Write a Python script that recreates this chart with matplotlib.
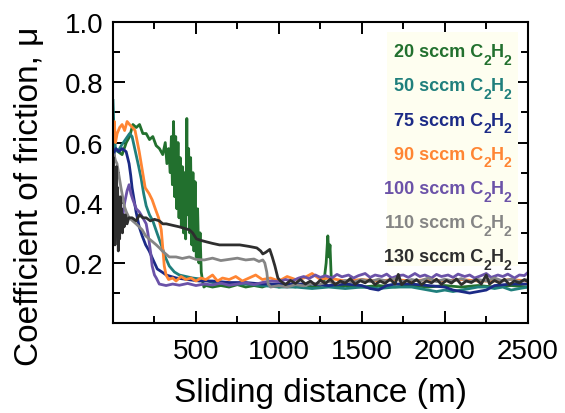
import matplotlib
matplotlib.use("Agg")
import matplotlib.pyplot as plt
from matplotlib.patches import Rectangle
from matplotlib.ticker import MultipleLocator
from matplotlib.transforms import offset_copy

plt.rcParams["font.family"] = ["Liberation Sans", "DejaVu Sans"]

# ---- data (sliding distance in m, COF) ----
x20 = [0, 10, 30, 55, 80, 100, 120, 140, 160, 180, 200, 220, 240, 260, 280, 300,
       315, 325, 335, 345, 352, 358, 365, 372, 378, 385, 392, 398, 405, 412, 418,
       425, 432, 438, 445, 450, 456, 462, 468, 475, 482, 488, 495, 502, 510, 518,
       525, 532, 540, 548, 560, 600, 650, 700, 750, 800, 850, 900, 950, 1000, 1050,
       1100, 1150, 1200, 1250, 1270, 1285, 1295, 1302, 1308, 1315, 1325, 1350, 1400,
       1500, 1600, 1700, 1800, 1900, 2000, 2100, 2200, 2300, 2400, 2500]
y20 = [0.55, 0.58, 0.57, 0.56, 0.60, 0.62, 0.66, 0.65, 0.66, 0.63, 0.63, 0.61, 0.62,
       0.59, 0.58, 0.56, 0.60, 0.53, 0.58, 0.50, 0.62, 0.46, 0.67, 0.42, 0.62, 0.38,
       0.60, 0.35, 0.55, 0.32, 0.52, 0.30, 0.50, 0.28, 0.68, 0.36, 0.58, 0.30, 0.55,
       0.26, 0.50, 0.24, 0.47, 0.22, 0.38, 0.20, 0.30, 0.17, 0.14, 0.12, 0.125, 0.12,
       0.125, 0.12, 0.128, 0.12, 0.125, 0.12, 0.13, 0.12, 0.125, 0.12, 0.13, 0.12,
       0.125, 0.13, 0.20, 0.29, 0.22, 0.26, 0.16, 0.13, 0.12, 0.125, 0.12, 0.125,
       0.12, 0.125, 0.12, 0.125, 0.12, 0.125, 0.12, 0.125, 0.12]

x50 = [0, 6, 15, 30, 50, 75, 100, 115, 139, 155, 170, 185, 200, 220, 240, 265, 291,
       315, 339, 370, 400, 440, 480, 550, 600, 700, 800, 900, 1000, 1100, 1200, 1300,
       1400, 1500, 1600, 1700, 1800, 1850, 1900, 1950, 2000, 2050, 2100, 2150, 2200,
       2250, 2300, 2350, 2400, 2450, 2500]
y50 = [0.74, 0.64, 0.58, 0.57, 0.59, 0.61, 0.63, 0.62, 0.56, 0.52, 0.48, 0.43, 0.39,
       0.36, 0.34, 0.30, 0.26, 0.22, 0.19, 0.17, 0.16, 0.155, 0.15, 0.145, 0.135, 0.13,
       0.13, 0.125, 0.12, 0.12, 0.115, 0.12, 0.115, 0.12, 0.115, 0.12, 0.12, 0.115,
       0.11, 0.105, 0.11, 0.105, 0.11, 0.115, 0.12, 0.12, 0.115, 0.12, 0.11, 0.115,
       0.12]

x75 = [0, 8, 18, 36, 55, 79, 97, 107, 115, 127, 139, 158, 176, 197, 218, 242, 267,
       295, 321, 350, 382, 450, 520, 600, 700, 800, 900, 1000, 1100, 1200, 1300, 1400,
       1500, 1550, 1600, 1650, 1700, 1800, 1900, 2000, 2050, 2100, 2150, 2200, 2250,
       2300, 2400, 2500]
y75 = [0.52, 0.57, 0.58, 0.57, 0.58, 0.57, 0.53, 0.49, 0.45, 0.41, 0.37, 0.32, 0.29,
       0.26, 0.24, 0.21, 0.18, 0.17, 0.16, 0.155, 0.15, 0.145, 0.14, 0.14, 0.135,
       0.135, 0.13, 0.13, 0.13, 0.13, 0.125, 0.13, 0.125, 0.115, 0.11, 0.125, 0.13,
       0.13, 0.125, 0.12, 0.11, 0.105, 0.10, 0.105, 0.11, 0.125, 0.13, 0.13]

x90 = [0, 8, 15, 25, 40, 55, 70, 85, 100, 118, 133, 158, 176, 194, 218, 236, 255, 275,
       291, 300, 309, 320, 335, 360, 380, 410, 440, 470, 500, 530, 560, 600, 630, 660,
       700, 740, 780, 820, 860, 900, 950, 1000, 1050, 1100, 1150, 1200, 1250, 1300,
       1400, 1500, 1600, 1700, 1800, 1900, 2000, 2100, 2200, 2300, 2400, 2500]
y90 = [0.62, 0.67, 0.60, 0.63, 0.65, 0.66, 0.64, 0.67, 0.66, 0.65, 0.64, 0.57, 0.51,
       0.45, 0.43, 0.41, 0.38, 0.35, 0.31, 0.25, 0.19, 0.16, 0.145, 0.15, 0.14, 0.155,
       0.145, 0.15, 0.14, 0.15, 0.145, 0.16, 0.14, 0.15, 0.145, 0.155, 0.14, 0.15,
       0.16, 0.145, 0.15, 0.14, 0.155, 0.145, 0.15, 0.165, 0.145, 0.15, 0.14, 0.145,
       0.14, 0.145, 0.14, 0.145, 0.14, 0.145, 0.14, 0.14, 0.145, 0.14]

x100 = [0, 5, 10, 18, 28, 40, 55, 70, 85, 97, 108, 120, 140, 158, 180, 200, 210, 218,
        228, 236, 250, 261, 279, 320, 360, 400, 450, 500, 550, 600, 650, 700, 750, 800,
        850, 900, 950, 1000, 1040, 1080, 1120, 1150, 1180, 1220, 1250, 1280, 1320, 1350,
        1380, 1420, 1450, 1480, 1520, 1550, 1580, 1620, 1650, 1680, 1720, 1750, 1780,
        1820, 1850, 1880, 1920, 1950, 1980, 2020, 2050, 2080, 2120, 2150, 2180, 2220,
        2250, 2280, 2320, 2350, 2380, 2420, 2450, 2480, 2500]
y100 = [0.30, 0.36, 0.27, 0.34, 0.30, 0.36, 0.34, 0.40, 0.44, 0.46, 0.43, 0.41, 0.38,
        0.37, 0.35, 0.33, 0.30, 0.27, 0.23, 0.19, 0.16, 0.15, 0.13, 0.125, 0.13, 0.126,
        0.132, 0.125, 0.13, 0.127, 0.133, 0.126, 0.13, 0.134, 0.128, 0.135, 0.14, 0.138,
        0.145, 0.14, 0.15, 0.155, 0.148, 0.16, 0.152, 0.158, 0.15, 0.162, 0.154, 0.16,
        0.15, 0.158, 0.165, 0.152, 0.16, 0.155, 0.163, 0.15, 0.158, 0.16, 0.152, 0.165,
        0.155, 0.16, 0.15, 0.162, 0.155, 0.16, 0.152, 0.163, 0.155, 0.16, 0.15, 0.158,
        0.165, 0.152, 0.16, 0.155, 0.163, 0.15, 0.16, 0.158, 0.168]

x110 = [0, 6, 15, 24, 36, 48, 58, 67, 80, 97, 118, 139, 158, 176, 197, 218, 240, 261,
        280, 297, 318, 339, 380, 418, 460, 500, 550, 600, 650, 700, 750, 800, 850, 880,
        903, 915, 927, 935, 950, 1000, 1050, 1100, 1150, 1200, 1250, 1300, 1350, 1400,
        1450, 1500, 1550, 1600, 1650, 1700, 1750, 1800, 1850, 1900, 1950, 2000, 2050,
        2100, 2150, 2200, 2250, 2300, 2350, 2400, 2450, 2500]
y110 = [0.50, 0.56, 0.54, 0.53, 0.49, 0.45, 0.42, 0.39, 0.37, 0.35, 0.34, 0.33, 0.32,
        0.31, 0.29, 0.28, 0.27, 0.26, 0.25, 0.24, 0.23, 0.22, 0.22, 0.215, 0.22, 0.212,
        0.21, 0.216, 0.208, 0.212, 0.216, 0.21, 0.213, 0.205, 0.21, 0.20, 0.17, 0.13,
        0.12, 0.125, 0.12, 0.128, 0.124, 0.132, 0.13, 0.138, 0.132, 0.142, 0.136, 0.145,
        0.138, 0.146, 0.14, 0.148, 0.138, 0.145, 0.14, 0.15, 0.138, 0.146, 0.14, 0.148,
        0.138, 0.145, 0.14, 0.15, 0.14, 0.146, 0.138, 0.145]

x130 = [0, 3, 6, 9, 12, 15, 18, 21, 25, 28, 32, 36, 40, 44, 48, 52, 57, 62, 67, 75,
        85, 95, 115, 140, 160, 180, 200, 225, 250, 279, 300, 321, 360, 400, 430, 461,
        480, 503, 530, 564, 600, 642, 700, 764, 820, 867, 890, 903, 920, 945, 960, 976,
        994, 1010, 1040, 1070, 1100, 1130, 1160, 1190, 1220, 1250, 1280, 1310, 1340,
        1370, 1400, 1430, 1460, 1490, 1520, 1550, 1580, 1610, 1640, 1670, 1700, 1720,
        1740, 1770, 1800, 1830, 1860, 1890, 1920, 1950, 1980, 2010, 2040, 2070, 2100,
        2130, 2160, 2190, 2220, 2250, 2270, 2300, 2330, 2360, 2390, 2420, 2450, 2480,
        2500]
y130 = [0.42, 0.55, 0.30, 0.50, 0.26, 0.47, 0.30, 0.52, 0.34, 0.45, 0.24, 0.40, 0.28,
        0.42, 0.31, 0.38, 0.30, 0.36, 0.32, 0.36, 0.33, 0.35, 0.35, 0.34, 0.36, 0.35,
        0.35, 0.34, 0.345, 0.34, 0.33, 0.33, 0.325, 0.32, 0.315, 0.31, 0.30, 0.28,
        0.275, 0.27, 0.265, 0.26, 0.26, 0.26, 0.255, 0.25, 0.24, 0.23, 0.235, 0.245,
        0.22, 0.19, 0.15, 0.14, 0.128, 0.142, 0.132, 0.145, 0.13, 0.14, 0.127, 0.143,
        0.132, 0.146, 0.128, 0.14, 0.133, 0.148, 0.129, 0.141, 0.134, 0.145, 0.128,
        0.14, 0.132, 0.146, 0.13, 0.162, 0.128, 0.142, 0.133, 0.145, 0.128, 0.14,
        0.134, 0.146, 0.129, 0.142, 0.133, 0.147, 0.128, 0.14, 0.135, 0.145, 0.13,
        0.16, 0.13, 0.142, 0.133, 0.146, 0.128, 0.14, 0.134, 0.145, 0.138]

labels = ["20", "50", "75", "90", "100", "110", "130"]
colors = ["#22702e", "#1f7f7c", "#1b2a86", "#ff8533", "#6b52a8", "#858585", "#2e2e2e"]
series = [(x20, y20), (x50, y50), (x75, y75), (x90, y90),
          (x100, y100), (x110, y110), (x130, y130)]

fig = plt.figure(figsize=(5.65, 4.14), dpi=100)
ax = fig.add_axes([0.2, 0.217, 0.734, 0.727])

for (xs, ys), c in zip(series, colors):
    ax.plot(xs, ys, color=c, lw=2.0)

ax.set_xlim(0, 2500)
ax.set_ylim(0, 1.0)
ax.xaxis.set_minor_locator(MultipleLocator(250))
ax.yaxis.set_minor_locator(MultipleLocator(0.1))
ax.set_xticks([500, 1000, 1500, 2000, 2500])
ax.set_yticks([0.2, 0.4, 0.6, 0.8, 1.0])
ax.set_yticklabels(["0.2", "0.4", "0.6", "0.8", "1.0"])

ax.tick_params(which="both", direction="in", top=True, right=True, width=1.4)
ax.tick_params(which="major", length=8.5, labelsize=20)
ax.tick_params(axis="x", which="major", pad=11)
ax.tick_params(axis="y", which="major", pad=7)
ax.tick_params(which="minor", length=4.7)
for s in ax.spines.values():
    s.set_linewidth(1.5)

ax.set_xlabel("Sliding distance (m)", fontsize=24, labelpad=9)
ax.set_ylabel("Coefficient of friction, \u03bc", fontsize=24)
ax.yaxis.set_label_coords(-0.165, 0.425)

# legend box with hand-set subscripts (C2H2 with low subscripts)
ax.add_patch(Rectangle((0.66, 0.19), 0.316, 0.777, transform=ax.transAxes,
                       facecolor="#fefef0", edgecolor="none", zorder=3))
renderer = fig.canvas.get_renderer()
big, small, drop = 13, 10, -5.5
for i, (lab, c) in enumerate(zip(labels, colors)):
    y0 = 0.887 - i * 0.1136
    pieces = [(lab + " sccm C", big, 0), ("2", small, drop), ("H", big, 0), ("2", small, drop)]
    texts = []
    for s, fs, dy in pieces:
        t = ax.text(0, 0, s, fontsize=fs, fontweight="bold", color=c,
                    ha="left", va="baseline", zorder=4)
        texts.append((t, t.get_window_extent(renderer).width, dy))
    total = sum(w for _, w, _ in texts)
    xoff = -total
    for t, w, dy in texts:
        t.set_position((0.961, y0))
        t.set_transform(offset_copy(ax.transAxes, fig=fig, x=xoff, y=dy * fig.dpi / 72,
                                    units="dots"))
        xoff += w

fig.savefig("out.png", dpi=100)
